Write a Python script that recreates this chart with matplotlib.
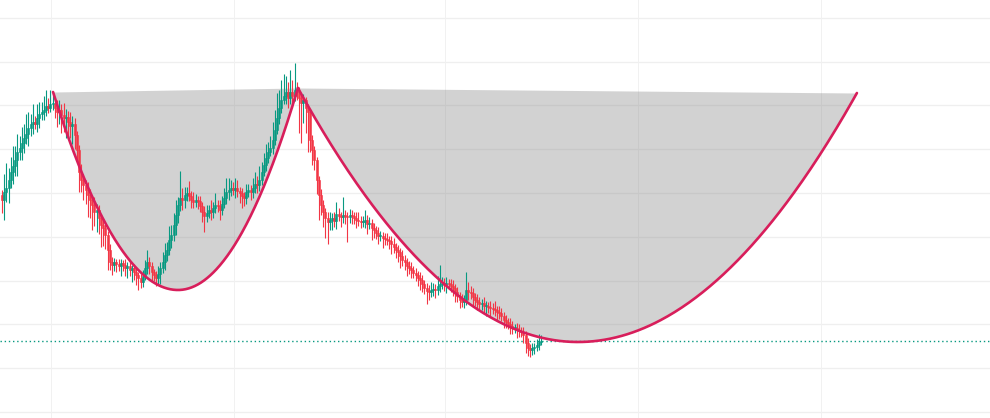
import numpy as np
import matplotlib
matplotlib.use("Agg")
import matplotlib.pyplot as plt

# ---------------- data ----------------
first_open = 235
close = [230, 238, 242, 250, 258, 264, 270, 278, 282, 287,
         292, 296, 302, 306, 308, 306, 312, 316, 318, 320,
         324, 322, 326, 326, 322, 318, 320, 315, 312, 313,
         308, 304, 306, 295, 280, 258, 250, 245, 240, 235,
         230, 225, 218, 220, 212, 205, 202, 195, 180, 168,
         165, 168, 166, 164, 167, 165, 162, 164, 160, 162,
         158, 155, 152, 148, 154, 162, 168, 164, 158, 155,
         152, 156, 162, 168, 175, 180, 190, 195, 205, 215,
         225, 232, 230, 235, 237, 234, 230, 228, 230, 229,
         224, 218, 214, 217, 220, 218, 222, 225, 224, 220,
         226, 232, 238, 240, 242, 240, 242, 239, 237, 234,
         232, 238, 240, 238, 242, 246, 245, 250, 258, 265,
         272, 278, 282, 290, 300, 312, 322, 330, 334, 338,
         332, 338, 334, 340, 338, 332, 327, 330, 322, 318,
         290, 280, 270, 250, 235, 225, 218, 212, 208, 210,
         212, 209, 216, 214, 213, 215, 214, 213, 215, 214,
         212, 210, 209, 208, 208, 210, 206, 207, 202, 200,
         197, 194, 194, 192, 191, 190, 189, 186, 183, 180,
         178, 174, 170, 168, 164, 162, 160, 157, 155, 152,
         150, 146, 142, 139, 138, 140, 141, 140, 144, 146,
         147, 145, 147, 146, 144, 142, 138, 134, 130, 128,
         130, 140, 138, 137, 133, 130, 128, 126, 127, 124,
         124, 123, 122, 121, 120, 118, 117, 114, 110, 108,
         106, 104, 102, 102, 100, 99, 98, 95, 87, 82,
         80, 82, 83, 85, 88, 89]

upper_wick = [5, 18, 25, 12, 15, 20, 14, 18, 12, 16,
              14, 20, 16, 10, 18, 6, 14, 12, 10, 14,
              16, 8, 14, 12, 4, 8, 10, 6, 12, 8,
              6, 10, 8, 6, 4, 5, 8, 6, 5, 8,
              6, 4, 8, 6, 5, 4, 6, 5, 4, 6,
              5, 4, 3, 5, 4, 3, 6, 4, 5, 3,
              4, 5, 3, 4, 6, 8, 12, 5, 4, 3,
              4, 8, 6, 10, 12, 8, 14, 10, 12, 15,
              8, 27, 10, 8, 6, 12, 5, 8, 6, 4,
              5, 4, 6, 8, 5, 10, 6, 12, 5, 6,
              8, 10, 14, 12, 8, 6, 10, 8, 4, 5,
              4, 8, 6, 5, 10, 12, 8, 14, 10, 12,
              14, 10, 12, 18, 20, 25, 18, 20, 22, 16,
              10, 22, 12, 27, 8, 5, 4, 6, 3, 4,
              3, 5, 4, 3, 4, 6, 5, 4, 6, 8,
              5, 6, 12, 6, 4, 18, 5, 4, 6, 5,
              4, 6, 8, 5, 6, 10, 5, 6, 4, 5,
              4, 6, 5, 4, 5, 6, 4, 5, 6, 4,
              5, 4, 6, 5, 4, 5, 6, 4, 5, 4,
              6, 5, 4, 5, 6, 8, 6, 5, 10, 19,
              6, 5, 6, 4, 5, 6, 4, 5, 4, 6,
              5, 18, 8, 6, 5, 4, 6, 5, 4, 6,
              5, 4, 6, 5, 8, 4, 6, 5, 4, 5,
              4, 6, 5, 4, 5, 6, 4, 5, 4, 5,
              4, 5, 4, 6, 8, 6]

lower_wick = [13, 20, 10, 15, 8, 12, 10, 16, 8, 12,
              10, 6, 12, 8, 10, 5, 8, 10, 6, 8,
              6, 5, 4, 6, 10, 15, 12, 18, 14, 20,
              16, 12, 18, 14, 10, 20, 12, 15, 14, 22,
              18, 25, 14, 20, 16, 22, 18, 14, 20, 8,
              10, 6, 8, 5, 10, 6, 8, 10, 6, 12,
              8, 10, 12, 6, 5, 4, 6, 8, 10, 6,
              8, 6, 10, 5, 8, 6, 5, 8, 6, 10,
              8, 6, 10, 8, 6, 5, 8, 6, 5, 8,
              6, 10, 16, 6, 5, 8, 6, 5, 6, 10,
              5, 4, 6, 8, 6, 5, 8, 6, 10, 12,
              8, 6, 5, 8, 6, 5, 8, 6, 5, 4,
              6, 5, 4, 6, 5, 4, 6, 5, 4, 8,
              10, 6, 12, 5, 8, 35, 40, 20, 25, 40,
              12, 15, 10, 14, 25, 10, 15, 20, 22, 8,
              10, 6, 8, 5, 10, 6, 8, 25, 6, 8,
              6, 8, 5, 6, 5, 6, 10, 5, 12, 8,
              6, 8, 5, 10, 6, 5, 8, 10, 6, 8,
              10, 12, 6, 8, 10, 6, 8, 5, 6, 8,
              10, 8, 6, 13, 8, 5, 6, 8, 5, 6,
              5, 6, 8, 5, 6, 8, 10, 6, 8, 5,
              6, 5, 8, 6, 10, 6, 8, 5, 6, 8,
              10, 6, 8, 5, 6, 8, 6, 5, 8, 6,
              5, 8, 6, 5, 8, 6, 5, 8, 10, 8,
              7, 5, 6, 4, 5, 3]

# cup anchor points: (bar index, price) for left rim, bottom, right rim
cup1 = [(23.2, 338), (80.0, 140), (134.5, 342)]
cup2 = [(134.5, 342), (261.8, 88), (388.6, 337)]

# ---------------- derived ----------------
close = np.array(close, dtype=float)
opn = np.concatenate([[first_open], close[:-1]])
hi = np.maximum(opn, close) + np.array(upper_wick)
lo = np.minimum(opn, close) - np.array(lower_wick)
idx = np.arange(len(close))

GREEN = "#089981"
RED = "#F23645"
CUP = "#D81E5B"

fig = plt.figure(figsize=(9.9, 4.18), dpi=100)
ax = fig.add_axes([0, 0, 1, 1])
ax.set_xlim(-0.909, 449.09)
ax.set_ylim(12, 430)

# grid
for gy in np.arange(18, 430, 43.8):
    ax.axhline(gy, color="#efefef", lw=0.9, zorder=0)
for gx in [22.3, 105.5, 201.4, 289.1, 372.3]:
    ax.axvline(gx, color="#f1f1f1", lw=0.7, zorder=0)

# cups
def cup_curve(anchors, n=400):
    (x0, y0), (xb, yb), (x2, y2) = anchors
    x = np.linspace(x0, x2, n)
    aL = (y0 - yb) / (xb - x0) ** 2
    aR = (y2 - yb) / (x2 - xb) ** 2
    a = np.where(x < xb, aL, aR)
    y = yb + a * (x - xb) ** 2
    chord = y0 + (y2 - y0) * (x - x0) / (x2 - x0)
    return x, y, chord

for cup in (cup1, cup2):
    x, y, chord = cup_curve(cup)
    ax.fill_between(x, y, chord, color="#808080", alpha=0.35, lw=0, zorder=1)

# candles
up = close >= opn
colors = np.where(up, GREEN, RED)
ax.vlines(idx, lo, hi, colors=colors, lw=0.8, zorder=2)
bottoms = np.minimum(opn, close)
heights = np.maximum(np.abs(close - opn), 1.0)
ax.bar(idx, heights, bottom=bottoms, width=0.95, color=colors,
       edgecolor=colors, lw=0.4, zorder=3)

for cup in (cup1, cup2):
    x, y, chord = cup_curve(cup)
    ax.plot(x, y, color=CUP, lw=1.9, zorder=4, solid_capstyle="round")

# last price line
ax.axhline(close[-1], color=GREEN, lw=1.0, ls=(0, (1, 2)), zorder=1.5)

ax.set_xticks([])
ax.set_yticks([])
for s in ax.spines.values():
    s.set_visible(False)

fig.savefig("out.png", dpi=100)
